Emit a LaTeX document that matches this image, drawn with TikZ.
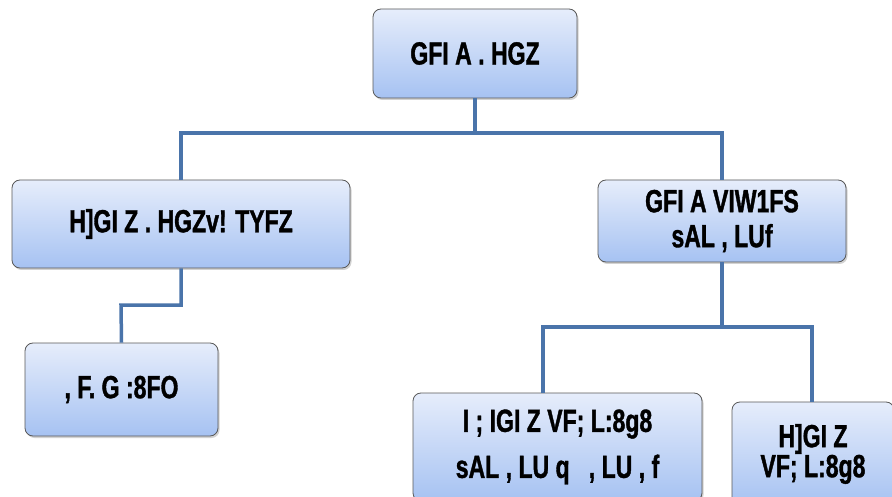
\documentclass[tikz,border=0pt]{standalone}
\usepackage{fontspec}
\setmainfont{Liberation Sans}[FakeStretch=0.72]
\newfontfamily\boxfont{Liberation Sans Bold}[FakeStretch=0.72,FakeBold=1.2]
\usetikzlibrary{shadows}
\definecolor{linkblue}{HTML}{4A74AA}
\definecolor{boxtop}{HTML}{E6EDFB}
\definecolor{boxbot}{HTML}{A6C2F2}
\tikzset{
  box/.style={draw=black!65, line width=0.8pt, rounded corners=8pt, top color=boxtop, bottom color=boxbot, drop shadow={shadow xshift=1.5pt, shadow yshift=-2pt, opacity=0.35}, font=\boxfont\fontsize{32}{36}\selectfont, align=center, inner sep=0pt},
  link/.style={draw=linkblue, line width=3.5pt}
}
\begin{document}
\begin{tikzpicture}[x=1pt,y=1pt]
\clip (0,0) rectangle (892,-497);
\fill[white] (0,0) rectangle (892,-497);
% connector corners
\coordinate (j1) at (475,-133);
\coordinate (j1l) at (181,-133);
\coordinate (j1r) at (722,-133);
\coordinate (j2) at (181,-305);
\coordinate (j2l) at (121,-305);
\coordinate (j3) at (722,-327);
\coordinate (j3l) at (543,-327);
\coordinate (j3r) at (812,-327);
% boxes
\node[box, minimum width=204pt, minimum height=89pt] (top) at (475,-53.5) {GFI A . HGZ};
\node[box, minimum width=338pt, minimum height=88pt] (left) at (181,-224) {H]GI Z . HGZv! TYFZ};
\node[box, minimum width=248pt, minimum height=82pt, font=\boxfont\fontsize{32}{35}\selectfont] (right) at (722,-221) {GFI A VIW1FS\\sAL , LUf};
\node[box, minimum width=193pt, minimum height=93pt] (bl) at (121.5,-389.5) {, F. G :8FO};
\node[box, minimum width=289pt, minimum height=108pt, font=\boxfont\fontsize{32}{46}\selectfont] (bm) at (557.5,-447) {I ; IGI Z VF; L:8g8\\sAL , LU q \ \ , LU , f};
\node[box, minimum width=162pt, minimum height=104pt, font=\boxfont\fontsize{32}{27}\selectfont] (br) at (813,-454) {H]GI Z\\VF; L:8g8};
\draw[link] (top.south) -- (j1);
\draw[link] (left.north) -- (j1l) -- (j1r) -- (right.north);
\draw[link] (left.south) -- (j2) -- (j2l) -- (bl.north);
\draw[link] (right.south) -- (j3);
\draw[link] (j3l |- bm.north) -- (j3l) -- (j3r) -- (j3r |- br.north);
\end{tikzpicture}
\end{document}
